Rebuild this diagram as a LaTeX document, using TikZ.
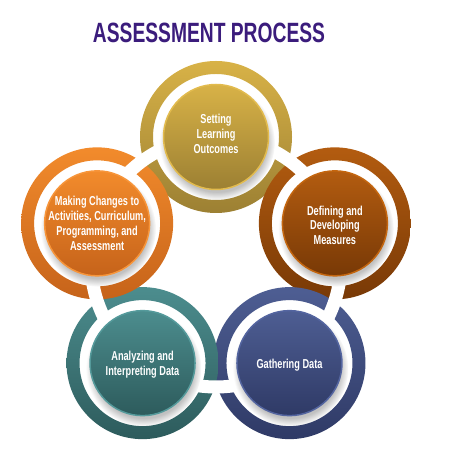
\documentclass[tikz,border=0pt]{standalone}
\usepackage{fontspec}
\setmainfont{Liberation Sans}
\newfontfamily\condfont[FakeStretch=0.71]{Liberation Sans}
\newfontfamily\titlefont[FakeStretch=0.69]{Liberation Sans}
\usetikzlibrary{positioning,shadows,calc}

\definecolor{titlepurple}{HTML}{3B1C7C}
\definecolor{goldtop}{HTML}{D8B247}
\definecolor{goldbot}{HTML}{9C8033}
\definecolor{goldrim}{HTML}{E2BB4E}
\definecolor{browntop}{HTML}{B35C10}
\definecolor{brownbot}{HTML}{783906}
\definecolor{brownrim}{HTML}{C4660F}
\definecolor{navytop}{HTML}{4E5E93}
\definecolor{navybot}{HTML}{2F3A66}
\definecolor{navyrim}{HTML}{5465A0}
\definecolor{tealtop}{HTML}{4C8D8E}
\definecolor{tealbot}{HTML}{2D5B5C}
\definecolor{tealrim}{HTML}{559A9B}
\definecolor{orangetop}{HTML}{F28B2C}
\definecolor{orangebot}{HTML}{C6631A}
\definecolor{orangerim}{HTML}{F7953A}

\newcommand{\stepring}[3]{%
  \shade[even odd rule, top color=#2, bottom color=#3] (#1) circle (76bp) (#1) circle (63bp);}

\begin{document}
\begin{tikzpicture}[x=1bp, y=1bp]
    \tikzstyle{disc}=[circle, minimum size=105bp, inner sep=0pt, line width=1.5bp,
        circular drop shadow={shadow xshift=1bp, shadow yshift=-5bp, opacity=.35, fill=black!70}]
    \tikzstyle{caption}=[align=center, text=white, inner sep=0pt,
        font=\condfont\bfseries\fontsize{13}{15}\selectfont]

    \useasboundingbox (0,0) rectangle (450,450);

    \node (title) [font=\titlefont\bfseries\fontsize{28}{30}\selectfont, text=titlepurple]
        at (209,417) {ASSESSMENT PROCESS};

    % centres of the five steps
    \coordinate (mid) at (216,188);
    \coordinate (p1) at ($(mid)+(90:125bp)$);
    \coordinate (p2) at ($(mid)+(18:125bp)$);
    \coordinate (p3) at ($(mid)+(-54:125bp)$);
    \coordinate (p4) at ($(mid)+(-126:125bp)$);
    \coordinate (p5) at ($(mid)+(162:125bp)$);

    % outer rings
    \stepring{p1}{goldtop}{goldbot}
    \stepring{p2}{browntop}{brownbot}
    \stepring{p3}{navytop}{navybot}
    \stepring{p4}{tealtop}{tealbot}
    \stepring{p5}{orangetop}{orangebot}

    % white band cutting the rings
    \draw[white, line width=13bp] (mid) circle (125bp);

    % inner discs
    \node (setting)   [disc, draw=goldrim, top color=goldtop, bottom color=goldbot] at (p1) {};
    \node (defining)  [disc, draw=brownrim, top color=browntop, bottom color=brownbot] at (p2) {};
    \node (gathering) [disc, draw=navyrim, top color=navytop, bottom color=navybot] at (p3) {};
    \node (analyzing) [disc, draw=tealrim, top color=tealtop, bottom color=tealbot] at (p4) {};
    \node (making)    [disc, draw=orangerim, top color=orangetop, bottom color=orangebot] at (p5) {};

    \node (settingtext)   [caption] at ([yshift=3bp]setting) {Setting\\Learning\\Outcomes};
    \node (definingtext)  [caption] at ([yshift=-2bp]defining) {Defining and\\Developing\\Measures};
    \node (gatheringtext) [caption] at ([yshift=-2bp]gathering) {Gathering Data};
    \node (analyzingtext) [caption] at ([yshift=-2bp]analyzing) {Analyzing and\\Interpreting Data};
    \node (makingtext)    [caption] at (making) {Making Changes to\\Activities, Curriculum,\\Programming, and\\Assessment};

\end{tikzpicture}
\end{document}
